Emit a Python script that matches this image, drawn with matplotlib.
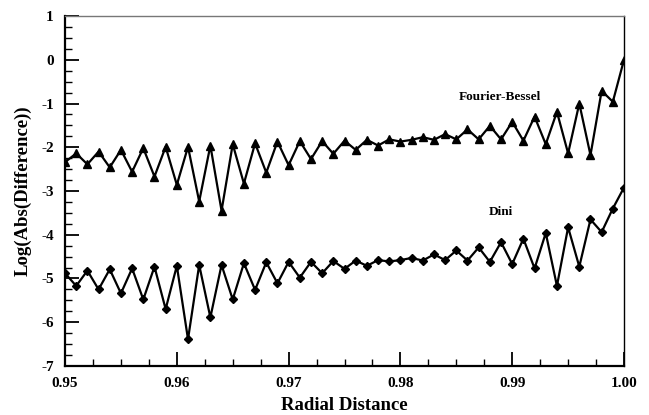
import matplotlib.pyplot as plt
import numpy as np
from matplotlib.ticker import MultipleLocator

# radial positions 0.950 ... 1.000, step 0.001
r = np.round(np.arange(0.950, 1.0005, 0.001), 3)

# log10 |difference|
fourier_bessel = [-2.34, -2.14, -2.39, -2.10, -2.46, -2.06, -2.56, -2.02, -2.67, -1.99,
                  -2.86, -1.99, -3.24, -1.96, -3.45, -1.93, -2.83, -1.91, -2.58, -1.87,
                  -2.41, -1.86, -2.27, -1.86, -2.15, -1.85, -2.06, -1.83, -1.96, -1.82,
                  -1.87, -1.83, -1.77, -1.83, -1.70, -1.82, -1.59, -1.82, -1.51, -1.82,
                  -1.42, -1.85, -1.30, -1.93, -1.19, -2.14, -1.00, -2.18, -0.71, -0.96,
                  0.00]
dini = [-4.88, -5.17, -4.82, -5.25, -4.79, -5.34, -4.77, -5.48, -4.73, -5.70,
        -4.71, -6.39, -4.69, -5.89, -4.69, -5.48, -4.65, -5.26, -4.63, -5.11,
        -4.62, -4.98, -4.62, -4.88, -4.60, -4.78, -4.59, -4.71, -4.58, -4.61,
        -4.58, -4.53, -4.59, -4.45, -4.58, -4.36, -4.59, -4.29, -4.62, -4.17,
        -4.67, -4.09, -4.77, -3.96, -5.17, -3.83, -4.73, -3.65, -3.94, -3.40,
        -2.92]

font = 'Liberation Serif'
plt.rcParams['font.family'] = font
plt.rcParams['font.weight'] = 'bold'
plt.rcParams['axes.unicode_minus'] = False

fig = plt.figure(figsize=(6.49, 4.15), dpi=100)
ax = fig.add_axes([0.1002, 0.1181, 0.8613, 0.8433])

ax.plot(r, fourier_bessel, color='black', lw=1.6, marker='^', ms=5.2)
ax.plot(r, dini, color='black', lw=1.6, marker='D', ms=3.8)

ax.text(0.9889, -0.85, 'Fourier-Bessel', fontsize=9.5, fontweight='bold', ha='center', va='center')
ax.text(0.9890, -3.48, 'Dini', fontsize=9.5, fontweight='bold', ha='center', va='center')

ax.set_xlim(0.95, 1.00)
ax.set_ylim(-7, 1)
ax.xaxis.set_major_locator(MultipleLocator(0.01))
ax.xaxis.set_minor_locator(MultipleLocator(0.0025))
ax.yaxis.set_major_locator(MultipleLocator(1))
ax.yaxis.set_minor_locator(MultipleLocator(0.25))
ax.set_xticklabels(['%.2f' % v for v in ax.get_xticks()])
ax.tick_params(which='major', direction='in', length=10, width=1.3, labelsize=11, pad=8)
ax.tick_params(which='minor', direction='in', length=5, width=1.0)
ax.tick_params(top=False, right=False, which='both')

for s in ['left', 'bottom']:
    ax.spines[s].set_linewidth(1.6)
for s in ['top', 'right']:
    ax.spines[s].set_linewidth(1.0)
ax.spines['top'].set_color('#777777')

ax.set_xlabel('Radial Distance', fontsize=13.5, fontweight='bold', labelpad=5)
ax.set_ylabel('Log(Abs(Difference))', fontsize=13.5, fontweight='bold', labelpad=7)

fig.savefig('out.png', dpi=100)
